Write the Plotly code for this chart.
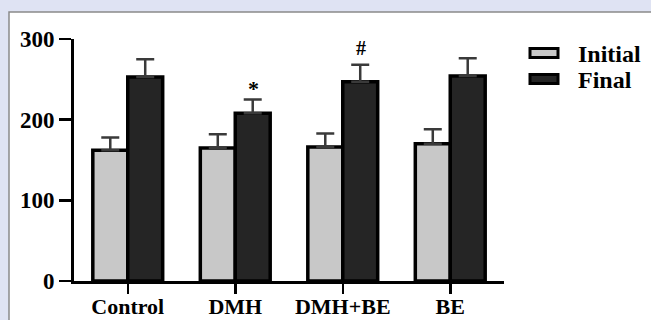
import plotly.graph_objects as go

categories = ["Control", "DMH", "DMH+BE", "BE"]
series_names = ["Initial", "Final"]
initial_vals = [162, 165, 166, 170]
initial_err = [16, 17, 17, 18]
final_vals = [253, 208, 247, 254]
final_err = [22, 17, 21, 22]
markers = ["", "*", "#", ""]
y_ticks = [0, 100, 200, 300]

W, H = 651, 320
L, R, T, B = 74, 147, 39, 39
pw, ph = W - L - R, H - T - B

def px(x):
    return (x - L) / pw

def py(y):
    return (H - B - y) / ph

FONT = "Times New Roman, Liberation Serif, serif"
colors = ["#c8c8c8", "#252525"]
BG = "#dfe3f3"

fig = go.Figure()
for name, vals, errs, col in zip(series_names, [initial_vals, final_vals],
                                 [initial_err, final_err], colors):
    fig.add_trace(go.Bar(
        x=categories, y=vals, name=name,
        marker=dict(color=col, line=dict(color="black", width=3.5)),
        error_y=dict(type="data", symmetric=False, array=errs,
                     arrayminus=[0] * len(errs), color="#3a3a3a",
                     thickness=2.5, width=9),
        showlegend=False, hoverinfo="skip",
    ))

# significance markers above final bars
for c, v, e, m in zip(categories, final_vals, final_err, markers):
    if m:
        fig.add_annotation(x=c, y=v + e, xref="x", yref="y", text=m,
                           showarrow=False, xshift=18, yshift=-3 if m == "*" else 4,
                           yanchor="bottom",
                           font=dict(family=FONT, size=20 if m == "#" else 22,
                                     color="black", weight="bold"))

# background panel
fig.add_shape(type="rect", xref="paper", yref="paper",
              x0=px(9), x1=px(700), y0=py(12), y1=py(400),
              fillcolor="white", line=dict(color="#8a8a8a", width=1.5),
              layer="below")

# manual legend
for i, (name, col) in enumerate(zip(series_names, colors)):
    yc = 53 + 26 * i
    fig.add_shape(type="rect", xref="paper", yref="paper",
                  x0=px(530), x1=px(558), y0=py(yc - 4.5), y1=py(yc + 4.5),
                  fillcolor=col, line=dict(color="black", width=3))
    fig.add_annotation(xref="paper", yref="paper", x=px(576), y=py(yc + 1),
                       text=name, showarrow=False, xanchor="left", yanchor="middle",
                       font=dict(family=FONT, size=24, color="black", weight="bold"))

fig.update_layout(
    width=W, height=H,
    margin=dict(l=L, r=R, t=T, b=B, autoexpand=False),
    paper_bgcolor=BG, plot_bgcolor="white",
    barmode="group", bargap=0.35, bargroupgap=0,
    font=dict(family=FONT, color="black", size=20, weight="bold"),
)
fig.update_xaxes(showline=True, linecolor="black", linewidth=3, automargin=False,
                 ticks="outside", ticklen=10, tickwidth=2.5, tickcolor="black",
                 showgrid=False, zeroline=False, ticklabelstandoff=-6,
                 tickfont=dict(family=FONT, size=22, color="black", weight="bold"))
fig.update_yaxes(range=[0, 300], tickvals=y_ticks, showline=True, linecolor="black",
                 linewidth=3, ticks="outside", ticklen=12, tickwidth=2.5, automargin=False,
                 tickcolor="black", showgrid=False, zeroline=False,
                 tickfont=dict(family=FONT, size=23, color="black", weight="bold"))

fig.write_html("out.html", config={"displayModeBar": False, "staticPlot": True},
               post_script="document.body.style.margin='0px';"
                           "document.body.style.background='" + BG + "';")
